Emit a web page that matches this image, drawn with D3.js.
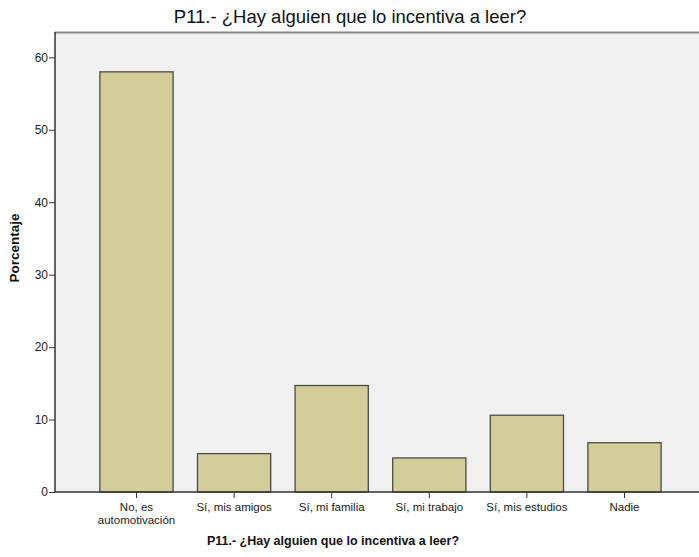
<!DOCTYPE html>
<html>
<head>
<meta charset="utf-8">
<script src="https://cdn.jsdelivr.net/npm/d3@7"></script>
<style>
  body { margin: 0; background: #fff; }
  svg { display: block; font-family: "Liberation Sans", Arial, sans-serif; }
</style>
</head>
<body>
<svg width="699" height="557"></svg>
<script>
const categories = ["No, es automotivación", "Sí, mis amigos", "Sí, mi familia", "Sí, mi trabajo", "Sí, mis estudios", "Nadie"];
const percents = [58.0, 5.3, 14.7, 4.7, 10.6, 6.8];
const yTicks = [0, 10, 20, 30, 40, 50, 60];
const title = "P11.- ¿Hay alguien que lo incentiva a leer?";

const svg = d3.select("svg");
const plot = { left: 55, top: 32, right: 706, bottom: 492 };

const x = d3.scaleBand()
  .domain(categories)
  .range([plot.left, plot.right])
  .paddingInner(0.25)
  .paddingOuter(0.46);

const y = d3.scaleLinear()
  .domain([0, 63.5])
  .range([plot.bottom, plot.top]);

// plot background
svg.append("rect")
  .attr("x", plot.left)
  .attr("y", plot.top)
  .attr("width", plot.right - plot.left)
  .attr("height", plot.bottom - plot.top)
  .attr("fill", "#f0f0f0");

svg.append("line")
  .attr("x1", plot.left).attr("x2", plot.right)
  .attr("y1", plot.top + 0.5).attr("y2", plot.top + 0.5)
  .attr("stroke", "#888").attr("stroke-width", 2);

// bars
svg.selectAll("rect.bar")
  .data(percents)
  .enter()
  .append("rect")
  .attr("class", "bar")
  .attr("x", (d, i) => x(categories[i]))
  .attr("y", d => y(d))
  .attr("width", x.bandwidth())
  .attr("height", d => plot.bottom - y(d))
  .attr("fill", "#d3ce97")
  .attr("stroke", "#4a4a4a")
  .attr("stroke-width", 1.3);

// y axis
const yAxis = svg.append("g")
  .attr("transform", `translate(${plot.left},0)`)
  .call(d3.axisLeft(y).tickValues(yTicks).tickSize(6).tickPadding(1));
yAxis.select(".domain").attr("d", `M0,${plot.top}V${plot.bottom}`).attr("stroke", "#333").attr("stroke-width", 1.5);
yAxis.selectAll(".tick line").attr("stroke", "#333");
yAxis.selectAll("text").attr("font-size", 12).attr("fill", "#222").attr("font-family", "Liberation Sans, Arial, sans-serif");

// x axis
const xAxis = svg.append("g")
  .attr("transform", `translate(0,${plot.bottom})`)
  .call(d3.axisBottom(x).tickSize(6).tickSizeOuter(0).tickPadding(2));
xAxis.select(".domain").attr("d", `M${plot.left},0H${plot.right}`).attr("stroke", "#333").attr("stroke-width", 1.5);
xAxis.selectAll(".tick line").attr("stroke", "#333");
xAxis.selectAll(".tick text").remove();
xAxis.selectAll(".tick").each(function (d) {
  const t = d3.select(this).append("text")
    .attr("fill", "#222")
    .attr("font-size", 11.5)
    .attr("font-family", "Liberation Sans, Arial, sans-serif")
    .attr("text-anchor", "middle");
  const lines = d === "No, es automotivación" ? ["No, es", "automotivación"] : [d];
  lines.forEach((s, i) => {
    t.append("tspan").attr("x", 0).attr("y", 19 + i * 13).text(s);
  });
});

// titles
svg.append("text")
  .attr("x", 350).attr("y", 23)
  .attr("text-anchor", "middle")
  .attr("font-size", 18.5)
  .attr("fill", "#111")
  .text(title);

svg.append("text")
  .attr("x", 333).attr("y", 545)
  .attr("text-anchor", "middle")
  .attr("font-size", 12.5)
  .attr("font-weight", "bold")
  .attr("fill", "#111")
  .text(title);

svg.append("text")
  .attr("transform", "translate(19,248) rotate(-90)")
  .attr("text-anchor", "middle")
  .attr("font-size", 13.5)
  .attr("font-weight", "bold")
  .attr("fill", "#111")
  .text("Porcentaje");
</script>
</body>
</html>
